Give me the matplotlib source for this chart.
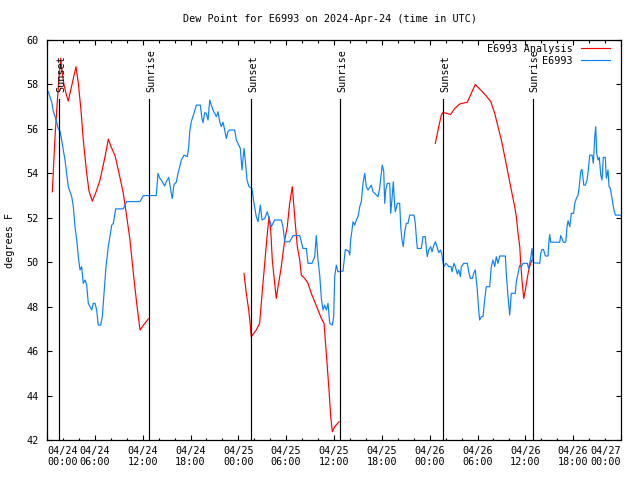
import datetime as dt
import matplotlib
matplotlib.use('Agg')
import matplotlib.pyplot as plt
import matplotlib.dates as mdates
import numpy as np

# hours since 2024-04-24 00:00 UTC, dew point (F)
obs_hours = [0.0, 0.16, 0.59, 0.79, 1.0, 1.22, 1.42, 1.63, 1.84, 2.04, 2.26, 2.47, 2.67, 2.89, 3.10,
             3.30, 3.51, 3.73, 3.93, 4.14, 4.35, 4.55, 4.77, 4.98, 5.18, 5.39, 5.61, 5.81, 6.02, 6.23,
             6.43, 6.74, 6.94, 7.19, 7.40, 7.69, 8.12, 8.32, 8.62, 9.57, 10.0, 11.67, 12.08, 13.71,
             13.92, 14.14, 14.34, 14.76, 14.96, 15.27, 15.59, 15.72, 15.93, 16.22, 16.43, 16.65, 16.85,
             17.19, 17.6, 17.78, 17.9, 18.1, 18.44, 18.73, 19.23, 19.44, 19.57, 19.78, 19.98, 20.2,
             20.41, 20.61, 20.82, 21.24, 21.45, 21.66, 21.86, 22.08, 22.29, 22.49, 22.7, 22.92, 23.54,
             23.75, 24.25, 24.46, 24.71, 24.87, 25.09, 25.34, 25.71, 25.97, 26.25, 26.47, 26.76, 26.97,
             27.31, 27.63, 28.14, 28.56, 29.39, 29.6, 29.82, 30.44, 30.86, 31.7, 32.11, 32.53, 32.74,
             33.24, 33.58, 33.78, 33.99, 34.21, 34.41, 34.62, 34.83, 35.04, 35.25, 35.46, 35.79, 35.96,
             36.09, 36.29, 36.5, 37.13, 37.34, 37.42, 37.84, 37.97, 38.09, 38.26, 38.38, 38.6, 38.8,
             39.01, 39.23, 39.43, 39.64, 39.85, 40.05, 40.27, 40.68, 40.9, 41.52, 41.73, 41.86, 42.06,
             42.24, 42.36, 42.49, 42.69, 42.99, 43.11, 43.28, 43.44, 43.62, 43.69, 43.94, 44.24, 44.37,
             44.53, 44.69, 44.87, 45.07, 45.28, 45.5, 46.03, 46.2, 46.32, 46.45, 46.95, 47.16, 47.45,
             47.58, 47.7, 47.88, 48.13, 48.29, 48.54, 48.71, 48.92, 49.13, 49.36, 49.55, 49.67, 49.8,
             50.01, 50.21, 50.39, 50.68, 50.8, 51.05, 51.22, 51.47, 51.65, 51.85, 51.97, 52.27, 52.72,
             52.9, 53.1, 53.35, 53.52, 53.72, 53.94, 54.15, 54.27, 54.48, 54.69, 54.9, 55.1, 55.53,
             55.73, 55.94, 56.16, 56.36, 56.57, 56.79, 57.49, 57.61, 57.83, 58.04, 58.24, 58.74, 58.87,
             59.08, 59.3, 59.5, 59.71, 60.25, 60.42, 60.67, 60.84, 61.0, 61.81, 61.93, 62.09, 62.28,
             62.51, 62.84, 62.97, 63.06, 63.18, 63.35, 64.31, 64.44, 64.6, 64.77, 65.07, 65.23, 65.36,
             65.57, 65.77, 66.05, 66.2, 66.4, 66.61, 66.74, 66.95, 67.11, 67.33, 67.53, 67.74, 67.9,
             68.08, 68.37, 68.53, 68.71, 68.83, 68.95, 69.12, 69.28, 69.46, 69.62, 69.78, 70.03, 70.16,
             70.37, 70.5, 70.66, 70.87, 71.08, 71.29, 71.84, 72.0]
obs_dewpt = [57.7, 57.67, 57.2, 56.8, 56.55, 56.3, 56.0, 55.9, 55.5, 55.05, 54.6, 54.0, 53.4, 53.17, 52.95,
             52.5, 51.6, 51.0, 50.25, 49.65, 49.8, 49.05, 49.2, 48.97, 48.15, 48.0, 47.85, 48.15, 48.15, 47.85,
             47.17, 47.17, 47.55, 48.75, 49.8, 50.7, 51.67, 51.75, 52.4, 52.4, 52.73, 52.73, 53.0, 53.0,
             54.0, 53.78, 53.7, 53.43, 53.62, 53.82, 53.1, 52.87, 53.5, 53.6, 54.0, 54.3, 54.6,
             54.82, 54.75, 55.2, 55.88, 56.33, 56.7, 57.07, 57.07, 56.47, 56.28, 56.73, 56.7, 56.4,
             57.3, 57.07, 56.85, 56.55, 56.77, 56.33, 56.1, 56.3, 55.95, 55.57, 55.88, 55.95, 55.95,
             55.5, 55.12, 54.15, 55.12, 54.6, 53.7, 53.4, 53.33, 52.65, 52.05, 51.82, 52.57, 51.9,
             51.97, 52.27, 51.6, 51.9, 51.9, 51.6, 50.92, 50.92, 51.2, 51.2, 50.62, 50.62, 49.95,
             49.95, 50.25, 51.2, 50.1, 49.42, 48.37, 47.85, 48.07, 47.85, 48.15, 47.25, 47.17, 47.55,
             49.35, 49.87, 49.57, 49.6, 50.32, 50.57, 50.5, 50.32, 51.0, 51.45, 51.82, 51.67, 51.9,
             52.05, 52.5, 52.73, 53.55, 54.0, 53.4, 53.25, 53.47, 53.17, 52.95, 53.33, 53.78, 54.37,
             54.07, 52.65, 53.25, 53.55, 53.55, 52.2, 52.87, 53.62, 52.5, 52.27, 52.65, 52.65, 51.6,
             51.0, 50.7, 51.37, 51.75, 51.75, 52.12, 52.12, 51.75, 51.15, 50.62, 50.62, 51.15, 51.15,
             50.62, 50.25, 50.55, 50.7, 50.47, 50.77, 50.92, 50.7, 50.43, 50.55, 50.32, 49.98, 49.8,
             49.95, 49.9, 49.8, 49.8, 49.57, 49.95, 49.8, 49.47, 49.65, 49.35, 49.8, 49.95, 49.95,
             49.57, 49.27, 49.27, 49.5, 49.65, 48.9, 47.85, 47.4, 47.55, 47.55, 48.3, 48.9, 48.9,
             49.8, 50.1, 49.8, 50.25, 49.95, 50.28, 50.28, 49.5, 48.45, 47.62, 48.6, 48.6, 49.12,
             49.5, 49.87, 49.8, 49.95, 49.95, 49.72, 50.17, 50.62, 49.98, 49.95, 50.4, 50.57, 50.57,
             50.28, 50.28, 51.0, 51.25, 50.9, 50.9, 50.9, 51.2, 51.05, 50.9, 50.9, 51.6, 51.87,
             51.6, 52.2, 52.2, 52.65, 52.87, 53.02, 53.33, 54.07, 54.18, 53.47, 53.47, 53.7, 54.15,
             54.82, 54.82, 54.45, 55.65, 56.1, 54.9, 54.6, 54.72, 53.92, 53.7, 54.72, 54.72, 53.78,
             54.15, 53.4, 53.33, 52.87, 52.42, 52.12, 52.12, 52.1]

# analysis, one run per night
ana1_hours = [0.67, 0.82, 1.0, 1.25, 1.5, 1.72, 1.88, 2.13, 2.38, 2.67, 3.01, 3.26, 3.64, 3.93, 4.26,
              4.55, 4.98, 5.27, 5.68, 6.14, 6.65, 7.28, 7.69, 8.03, 8.53, 8.94, 9.28, 9.57, 10.0,
              10.41, 10.83, 11.25, 11.67, 12.17, 12.71]
ana1_dewpt = [53.17, 54.3, 55.6, 57.0, 58.3, 59.18, 58.6, 58.0, 57.6, 57.25, 57.8, 58.2, 58.8, 58.05, 56.85,
              55.5, 54.0, 53.2, 52.75, 53.15, 53.7, 54.75, 55.54, 55.2, 54.8, 54.15, 53.6, 53.1, 52.05,
              51.0, 49.5, 48.15, 46.95, 47.2, 47.45]
ana2_hours = [24.71, 25.0, 25.3, 25.46, 25.62, 25.83, 26.25, 26.67, 26.88, 27.09, 27.31, 27.6, 27.85,
              28.06, 28.26, 28.56, 28.76, 28.98, 29.19, 29.39, 29.6, 29.82, 30.14, 30.44, 30.77, 31.07,
              31.4, 31.7, 31.9, 32.33, 32.74, 33.15, 33.58, 34.0, 34.41, 34.75, 34.91, 35.16, 35.37,
              35.59, 35.79, 36.09, 36.63]
ana2_dewpt = [49.5, 48.6, 47.85, 47.3, 46.65, 46.75, 46.95, 47.25, 48.15, 49.05, 49.95, 51.15, 52.05,
              51.45, 50.1, 49.05, 48.37, 48.9, 49.35, 49.8, 50.4, 51.0, 51.6, 52.65, 53.4, 52.05,
              50.7, 50.1, 49.42, 49.27, 49.05, 48.6, 48.22, 47.85, 47.47, 47.25, 46.5, 45.3, 44.25,
              43.05, 42.37, 42.6, 42.82]
ana3_hours = [48.71, 49.05, 49.46, 49.67, 50.08, 50.64, 51.14, 51.77, 52.72, 53.22, 53.72, 54.48, 55.1,
              55.66, 56.16, 56.57, 56.99, 57.42, 57.83, 58.24, 58.67, 58.87, 59.08, 59.3, 59.42, 59.58,
              59.8, 60.0, 60.21, 60.42, 60.67, 60.84]
ana3_dewpt = [55.35, 55.95, 56.62, 56.75, 56.7, 56.65, 56.92, 57.12, 57.2, 57.6, 58.0, 57.72, 57.48,
              57.23, 56.7, 56.1, 55.5, 54.75, 54.0, 53.25, 52.5, 52.05, 51.3, 50.7, 49.95, 49.2,
              48.37, 48.75, 49.2, 49.65, 49.95, 50.1]

event_hours = [1.5, 12.8, 25.6, 36.75, 49.7, 60.9]
event_names = ['Sunset', 'Sunrise', 'Sunset', 'Sunrise', 'Sunset', 'Sunrise']

base = dt.datetime(2024, 4, 24)


def to_time(hours):
    return [base + dt.timedelta(hours=h) for h in hours]


plt.rcParams['font.family'] = 'DejaVu Sans Mono'
plt.rcParams['font.size'] = 7.3

fig = plt.figure(figsize=(6.4, 4.8), dpi=100)
ax = fig.add_axes([47 / 640, 40 / 480, 574 / 640, 400 / 480])

red = '#ff0000'
blue = '#0a80ff'
first = True
for hrs, vals in [(ana1_hours, ana1_dewpt), (ana2_hours, ana2_dewpt), (ana3_hours, ana3_dewpt)]:
    ax.plot(to_time(hrs), vals, color=red, lw=0.85, label='E6993 Analysis' if first else None)
    first = False
ax.plot(to_time(obs_hours), obs_dewpt, color=blue, lw=0.85, label='E6993')

for h, name in zip(event_hours, event_names):
    t = base + dt.timedelta(hours=h)
    ax.plot([t, t], [42, 57.35], color='black', lw=0.85)
    ax.annotate(name, (mdates.date2num(t), 57.65), xytext=(1.5, 0), textcoords='offset points',
                rotation=90, ha='center', va='bottom')

ax.set_xlim(base, base + dt.timedelta(hours=72))
ax.set_ylim(42, 60)
ax.set_yticks(np.arange(42, 61, 2))

major = [base + dt.timedelta(hours=h) for h in range(0, 73, 6)]
ax.set_xticks(major)
ax.set_xticklabels([t.strftime('%m/%d\n%H:%M') for t in major])
ax.set_xticks([base + dt.timedelta(hours=h) for h in range(0, 73, 2)], minor=True)
labs = ax.get_xticklabels()
labs[0].set_ha('left')
labs[-1].set_ha('right')

ax.tick_params(which='both', direction='in', top=True, right=True, width=0.8)
ax.tick_params(which='major', length=3.6)
ax.tick_params(which='minor', length=1.8)
ax.tick_params(axis='x', pad=4)
ax.tick_params(axis='y', pad=6)
for s in ax.spines.values():
    s.set_linewidth(0.9)

ax.legend(loc='upper right', bbox_to_anchor=(0.981, 0.99), frameon=False, markerfirst=False,
          handlelength=2.9, handletextpad=0.8, borderpad=0, borderaxespad=0, labelspacing=0.2)

fig.text(330 / 640, 1 - 19 / 480, 'Dew Point for E6993 on 2024-Apr-24 (time in UTC)', ha='center', va='center')
fig.text(10 / 640, 0.5, 'degrees F', rotation=90, ha='center', va='center')

fig.savefig('out.png', dpi=100)
